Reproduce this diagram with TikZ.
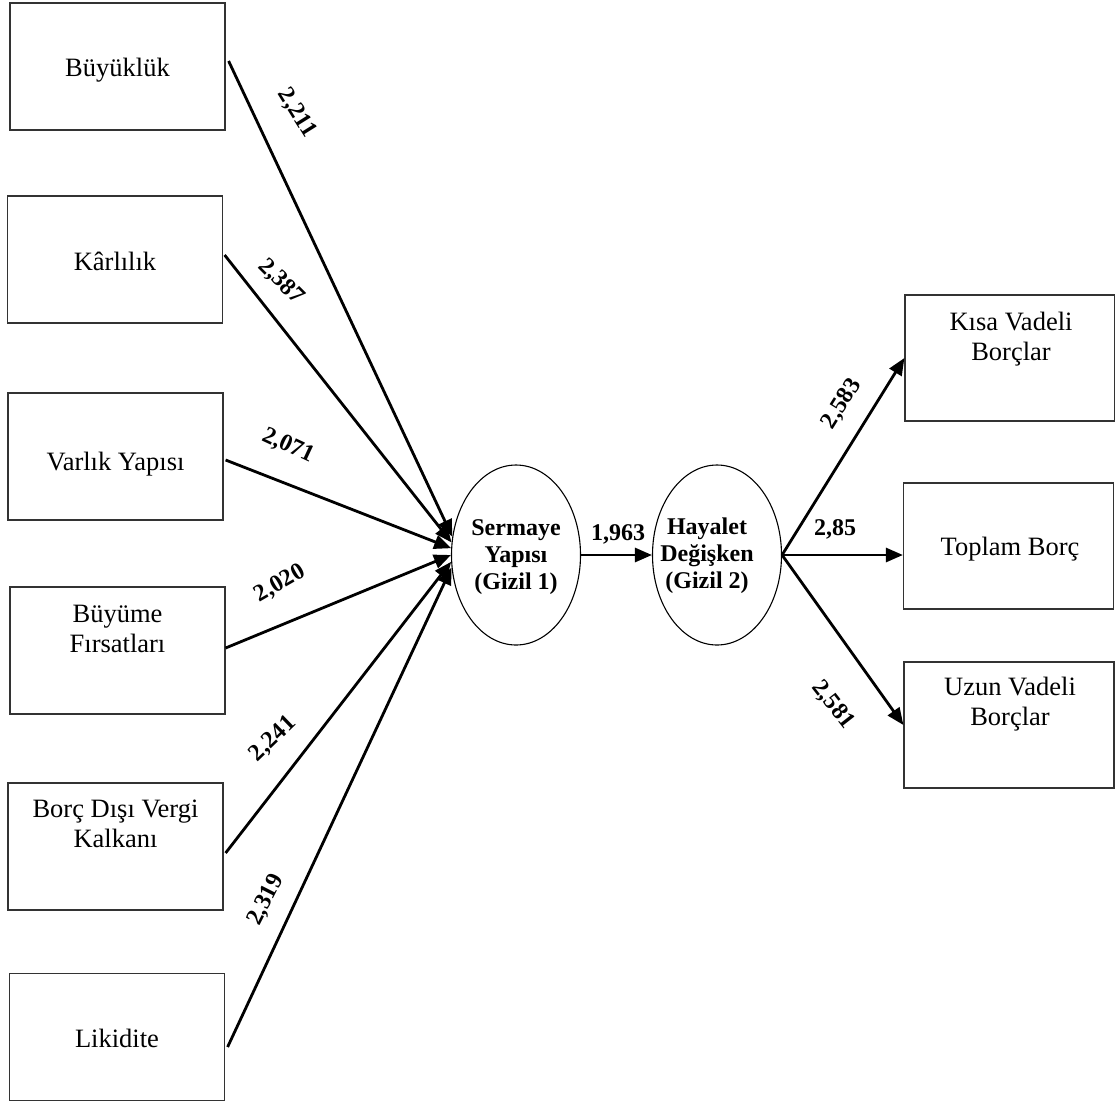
\documentclass[tikz,border=0pt]{standalone}
\usepackage{fontspec}
\setmainfont{Liberation Serif}
\usetikzlibrary{arrows.meta,shapes.geometric,calc}
\begin{document}
\begin{tikzpicture}[x=1pt,y=-1pt,
  box/.style={draw=black!80,line width=1.2pt,rectangle,minimum width=215pt,minimum height=127pt,inner sep=0pt},
  rbox/.style={box,minimum width=210pt,minimum height=126pt},
  btxt/.style={font=\fontsize{26.5}{30.5}\selectfont,anchor=base,inner sep=0pt},
  lat/.style={draw=black,line width=1.1pt,ellipse,minimum width=129pt,minimum height=180pt,inner sep=0pt},
  etxt/.style={font=\fontsize{24}{27.5}\selectfont\bfseries,anchor=base,inner sep=0pt},
  coef/.style={font=\fontsize{24}{27.5}\selectfont\bfseries,fill=white,inner sep=2pt},
  conn/.style={line width=2.8pt,-{Triangle[length=17pt,width=14pt]}}
]
\useasboundingbox (0,0) rectangle (1115,1103);
% left boxes
\node[box] (b1) at (117.5,66.5) {};
\node[box] (b2) at (115,259.5) {};
\node[box] (b3) at (115.5,456.5) {};
\node[box] (b4) at (117.5,650.5) {};
\node[box] (b5) at (115.5,846.5) {};
\node[box] (b6) at (117,1037) {};
\node[btxt] (t1) at (117.5,76) {Büyüklük};
\node[btxt] (t2) at (115,270) {Kârlılık};
\node[btxt] (t3) at (115.5,470) {Varlık Yapısı};
\node[btxt] (t4a) at (117.5,622) {Büyüme};
\node[btxt] (t4b) at (117.5,652) {Fırsatları};
\node[btxt] (t5a) at (115.5,817) {Borç Dışı Vergi};
\node[btxt] (t5b) at (115.5,847) {Kalkanı};
\node[btxt] (t6) at (117,1047) {Likidite};
% right boxes
\node[rbox] (k1) at (1010,358) {};
\node[rbox] (k2) at (1008.5,546) {};
\node[rbox] (k3) at (1009,725) {};
\node[btxt] (s1a) at (1011,330) {Kısa Vadeli};
\node[btxt] (s1b) at (1011,360) {Borçlar};
\node[btxt] (s2) at (1010,555) {Toplam Borç};
\node[btxt] (s3a) at (1010,695) {Uzun Vadeli};
\node[btxt] (s3b) at (1010,725) {Borçlar};
% latent variables
\node[lat] (e1) at (516,555) {};
\node[lat] (e2) at (717,555) {};
\node[etxt] (e1a) at (516,535) {Sermaye};
\node[etxt] (e1b) at (516,562) {Yapısı};
\node[etxt] (e1c) at (516,589) {(Gizil 1)};
\node[etxt] (e2a) at (707,534) {Hayalet};
\node[etxt] (e2b) at (707,561) {Değişken};
\node[etxt] (e2c) at (707,588) {(Gizil 2)};
% coefficients
\node[coef,rotate=-58] (c1) at (297,113) {2,211};
\node[coef,rotate=-45] (c2) at (281,282) {2,387};
\node[coef,rotate=-25] (c3) at (288,446) {2,071};
\node[coef,rotate=30] (c4) at (280,584) {2,020};
\node[coef,rotate=44] (c5) at (273,739) {2,241};
\node[coef,rotate=63] (c6) at (266,900) {2,319};
\node[coef,rotate=58] (c7) at (842,404) {2,583};
\node[coef,rotate=-52] (c8) at (833,705) {2,581};
\node[coef] (c9) at (835,529) {2,85};
\node[coef] (c10) at (618,534) {1,963};
% connectors
\draw[conn] ([shift={(3,-5.5)}]b1.east) -- (e1.164.5);
\draw[conn] ([shift={(1.5,-4.5)}]b2.east) -- (e1.169.5);
\draw[conn] ([shift={(2,3.5)}]b3.east) -- (e1.174.7);
\draw[conn] ([shift={(0,-2.5)}]b4.east) -- (e1.180.9);
\draw[conn] ([shift={(2,6.5)}]b5.east) -- (e1.186.1);
\draw[conn] ([shift={(2.5,10)}]b6.east) -- (e1.191.3);
\draw[conn] (e1.east) -- (e2.west);
\draw[conn] (e2.east) -- (k1.west);
\draw[conn] (e2.east) -- (e2.east -| k2.west);
\draw[conn] (e2.east) -- (k3.west);
\end{tikzpicture}
\end{document}
